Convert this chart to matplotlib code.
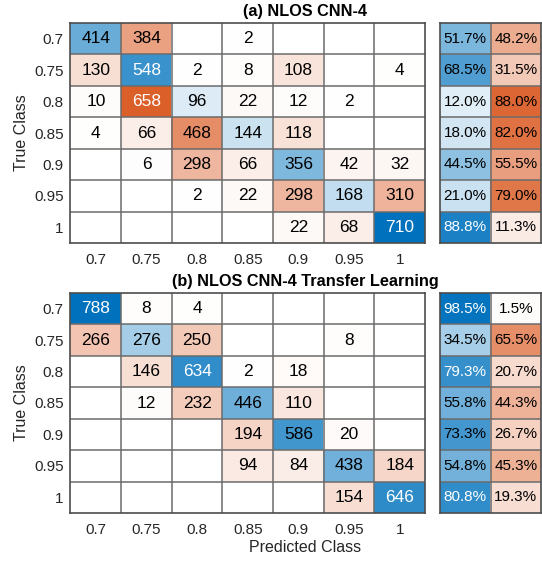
import numpy as np
import matplotlib
matplotlib.use("Agg")
import matplotlib.pyplot as plt

plt.rcParams['font.family'] = ['Liberation Sans', 'DejaVu Sans']

classes = ["0.7", "0.75", "0.8", "0.85", "0.9", "0.95", "1"]

counts_a = [
    [414, 384, 0, 2, 0, 0, 0],
    [130, 548, 2, 8, 108, 0, 4],
    [10, 658, 96, 22, 12, 2, 0],
    [4, 66, 468, 144, 118, 0, 0],
    [0, 6, 298, 66, 356, 42, 32],
    [0, 0, 2, 22, 298, 168, 310],
    [0, 0, 0, 0, 22, 68, 710],
]
correct_a = [51.7, 68.5, 12.0, 18.0, 44.5, 21.0, 88.8]
wrong_a = [48.2, 31.5, 88.0, 82.0, 55.5, 79.0, 11.3]

counts_b = [
    [788, 8, 4, 0, 0, 0, 0],
    [266, 276, 250, 0, 0, 8, 0],
    [0, 146, 634, 2, 18, 0, 0],
    [0, 12, 232, 446, 110, 0, 0],
    [0, 0, 0, 194, 586, 20, 0],
    [0, 0, 0, 94, 84, 438, 184],
    [0, 0, 0, 0, 0, 154, 646],
]
correct_b = [98.5, 34.5, 79.3, 55.8, 73.3, 54.8, 80.8]
wrong_b = [1.5, 65.5, 20.7, 44.3, 26.7, 45.3, 19.3]

title_a = "(a) NLOS CNN-4"
title_b = "(b) NLOS CNN-4 Transfer Learning"

BLUE = np.array([0.0, 0.447, 0.741])
ORANGE = np.array([0.85, 0.325, 0.098])
WHITE = np.ones(3)
EDGE = (0.42, 0.42, 0.42)
TICK = (0.15, 0.15, 0.15)

W, H = 542, 562
fig = plt.figure(figsize=(W / 100, H / 100), dpi=100)


def shade(base, t):
    return WHITE * (1 - t) + base * t


def text_color(rgb):
    lum = 0.299 * rgb[0] + 0.587 * rgb[1] + 0.114 * rgb[2]
    return "white" if lum < 0.51 else "black"


def px_axes(x0, y0, x1, y1):
    return fig.add_axes([x0 / W, 1 - y1 / H, (x1 - x0) / W, (y1 - y0) / H])


def draw_grid(ax, ncol, nrow):
    for k in range(1, ncol):
        ax.axvline(k - 0.5, color=EDGE, lw=1.1)
    for k in range(1, nrow):
        ax.axhline(k - 0.5, color=EDGE, lw=1.1)
    for s in ax.spines.values():
        s.set_color((0.3, 0.3, 0.3))
        s.set_linewidth(1.2)


def draw_matrix(ax, counts):
    m = np.array(counts, dtype=float)
    n = m.shape[0]
    vmax = m.max()
    img = np.ones((n, n, 3))
    for i in range(n):
        for j in range(n):
            v = m[i, j]
            base = BLUE if i == j else ORANGE
            c = shade(base, v / vmax)
            img[i, j] = c
            if v > 0:
                ax.text(j, i, f"{int(v)}", ha="center", va="center",
                        fontsize=12.5, color=text_color(c))
    ax.imshow(img, aspect="auto", interpolation="nearest",
              extent=(-0.5, n - 0.5, n - 0.5, -0.5))
    draw_grid(ax, n, n)
    ax.set_xticks(range(n))
    ax.set_yticks(range(n))
    ax.set_xticklabels(classes, fontsize=11, color=TICK)
    ax.set_yticklabels(classes, fontsize=11, color=TICK)
    ax.tick_params(axis="x", length=0, pad=7)
    ax.tick_params(axis="y", length=0, pad=5)


def draw_summary(ax, correct, wrong):
    n = len(correct)
    img = np.ones((n, 2, 3))
    for i in range(n):
        for j, (vals, base) in enumerate(((correct, BLUE), (wrong, ORANGE))):
            v = vals[i]
            c = shade(base, v / 100.0)
            img[i, j] = c
            ax.text(j, i, f"{v:.1f}%", ha="center", va="center",
                    fontsize=11, color=text_color(c))
    ax.imshow(img, aspect="auto", interpolation="nearest",
              extent=(-0.5, 1.5, n - 0.5, -0.5))
    draw_grid(ax, 2, n)
    ax.set_xticks([])
    ax.set_yticks([])


panels = [
    (counts_a, correct_a, wrong_a, title_a, 23, 243),
    (counts_b, correct_b, wrong_b, title_b, 293, 513),
]

for counts, correct, wrong, title, top, bottom in panels:
    ax = px_axes(70.5, top, 425, bottom)
    draw_matrix(ax, counts)
    sax = px_axes(440, top, 541, bottom)
    draw_summary(sax, correct, wrong)
    fig.text(305 / W, 1 - (top - 11.5) / H, title, ha="center", va="center",
             fontsize=11.7, fontweight="bold", color="black")
    fig.text(22 / W, 1 - ((top + bottom) / 2) / H, "True Class",
             rotation=90, ha="center", va="center", fontsize=11.5, color=TICK)

fig.text(305 / W, 1 - 548 / H, "Predicted Class", ha="center", va="center",
         fontsize=11.5, color=TICK)

fig.savefig("out.png", dpi=100)
